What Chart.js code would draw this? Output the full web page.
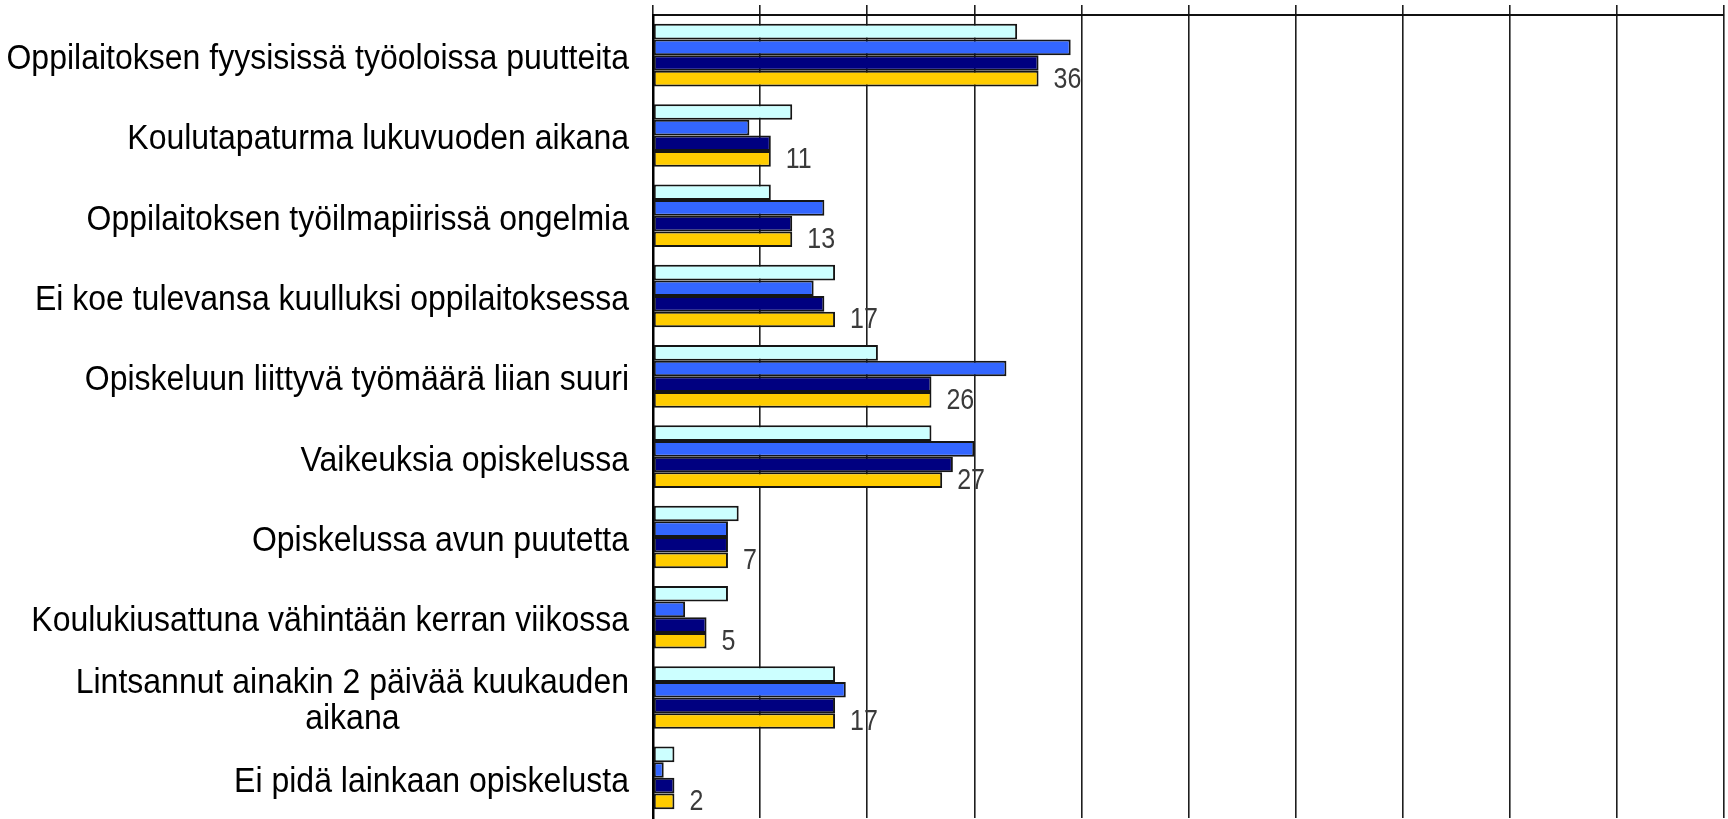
<!DOCTYPE html>
<html>
<head>
<meta charset="utf-8">
<script src="https://cdn.jsdelivr.net/npm/chart.js@4/dist/chart.umd.min.js"></script>
<style>
  html, body { margin: 0; padding: 0; background: #fff; overflow: hidden; }
  #wrap { width: 1728px; height: 819px; }
</style>
</head>
<body>
<div id="wrap"><canvas id="chart"></canvas></div>
<script>
// rivien nimet (ylhäältä alas)
const categories = [
  'Oppilaitoksen fyysisissä työoloissa puutteita',
  'Koulutapaturma lukuvuoden aikana',
  'Oppilaitoksen työilmapiirissä ongelmia',
  'Ei koe tulevansa kuulluksi oppilaitoksessa',
  'Opiskeluun liittyvä työmäärä liian suuri',
  'Vaikeuksia opiskelussa',
  'Opiskelussa avun puutetta',
  'Koulukiusattuna vähintään kerran viikossa',
  ['Lintsannut ainakin 2 päivää kuukauden', 'aikana'],
  'Ei pidä lainkaan opiskelusta'
];

// prosentit, neljä sarjaa
const series1 = [34, 13, 11, 17, 21, 26, 8, 7, 17, 2];
const series2 = [39, 9, 16, 15, 33, 30, 7, 3, 18, 1];
const series3 = [36, 11, 13, 16, 26, 28, 7, 5, 17, 2];
const series4 = [36, 11, 13, 17, 26, 27, 7, 5, 17, 2];

const xTicks = [0, 10, 20, 30, 40, 50, 60, 70, 80, 90, 100];

const FONT = '"Liberation Sans", Arial, sans-serif';

// piirretään rivien nimet itse, jotta kaksirivinen nimi keskitetään
const rowLabels = {
  id: 'rowLabels',
  afterDraw(chart) {
    const ctx = chart.ctx;
    const yScale = chart.scales.y;
    const right = chart.chartArea.left - 24;
    ctx.save();
    ctx.fillStyle = '#000';
    ctx.font = '32px ' + FONT;
    ctx.textBaseline = 'middle';
    ctx.textAlign = 'center';
    categories.forEach((label, i) => {
      const lines = Array.isArray(label) ? label : [label];
      const y = yScale.getPixelForValue(i);
      const widest = Math.max(...lines.map(l => ctx.measureText(l).width));
      const cx = right - widest / 2;
      lines.forEach((line, j) => {
        const ly = y + (j - (lines.length - 1) / 2) * 36 + 4;
        ctx.save();
        ctx.translate(cx, ly);
        ctx.scale(1, 1.12);
        ctx.fillText(line, 0, 0);
        ctx.restore();
      });
    });
    ctx.restore();
  }
};

// arvot keltaisen palkin perään
const valueLabels = {
  id: 'valueLabels',
  afterDatasetsDraw(chart) {
    const ctx = chart.ctx;
    const meta = chart.getDatasetMeta(3);
    ctx.save();
    ctx.fillStyle = '#3a3a3a';
    ctx.font = '25px ' + FONT;
    ctx.textBaseline = 'middle';
    ctx.textAlign = 'left';
    meta.data.forEach((bar, i) => {
      ctx.save();
      ctx.translate(bar.x + 15, bar.y + 1);
      ctx.scale(1, 1.15);
      ctx.fillText(String(series4[i]), 0, 0);
      ctx.restore();
    });
    ctx.restore();
  }
};

const barStyle = { borderColor: '#151515', borderWidth: 2, borderSkipped: false };

new Chart(document.getElementById('chart'), {
  type: 'bar',
  data: {
    labels: categories,
    datasets: [
      { label: 'Sarja 1', data: series1, backgroundColor: '#CCFFFF', ...barStyle },
      { label: 'Sarja 2', data: series2, backgroundColor: '#3366FF', ...barStyle },
      { label: 'Sarja 3', data: series3, backgroundColor: '#000080', ...barStyle },
      { label: 'Sarja 4', data: series4, backgroundColor: '#FFCC00', ...barStyle }
    ]
  },
  options: {
    indexAxis: 'y',
    responsive: true,
    maintainAspectRatio: false,
    animation: false,
    layout: { padding: { top: 5, right: 4, bottom: 1, left: 0 } },
    datasets: { bar: { categoryPercentage: 0.78, barPercentage: 1.0 } },
    plugins: { legend: { display: false }, tooltip: { enabled: false } },
    scales: {
      x: {
        position: 'top',
        min: 0,
        max: 100,
        afterBuildTicks: scale => { scale.ticks = xTicks.map(v => ({ value: v })); },
        ticks: { display: false },
        grid: { color: '#1e1e1e', lineWidth: 1.6, tickLength: 10, drawTicks: true },
        border: { display: true, color: '#111', width: 2 }
      },
      y: {
        ticks: { display: false },
        grid: { display: false, drawTicks: false },
        border: { display: true, color: '#000', width: 2.5 },
        afterFit: scale => { scale.width = 653; }
      }
    }
  },
  plugins: [rowLabels, valueLabels]
});
</script>
</body>
</html>
